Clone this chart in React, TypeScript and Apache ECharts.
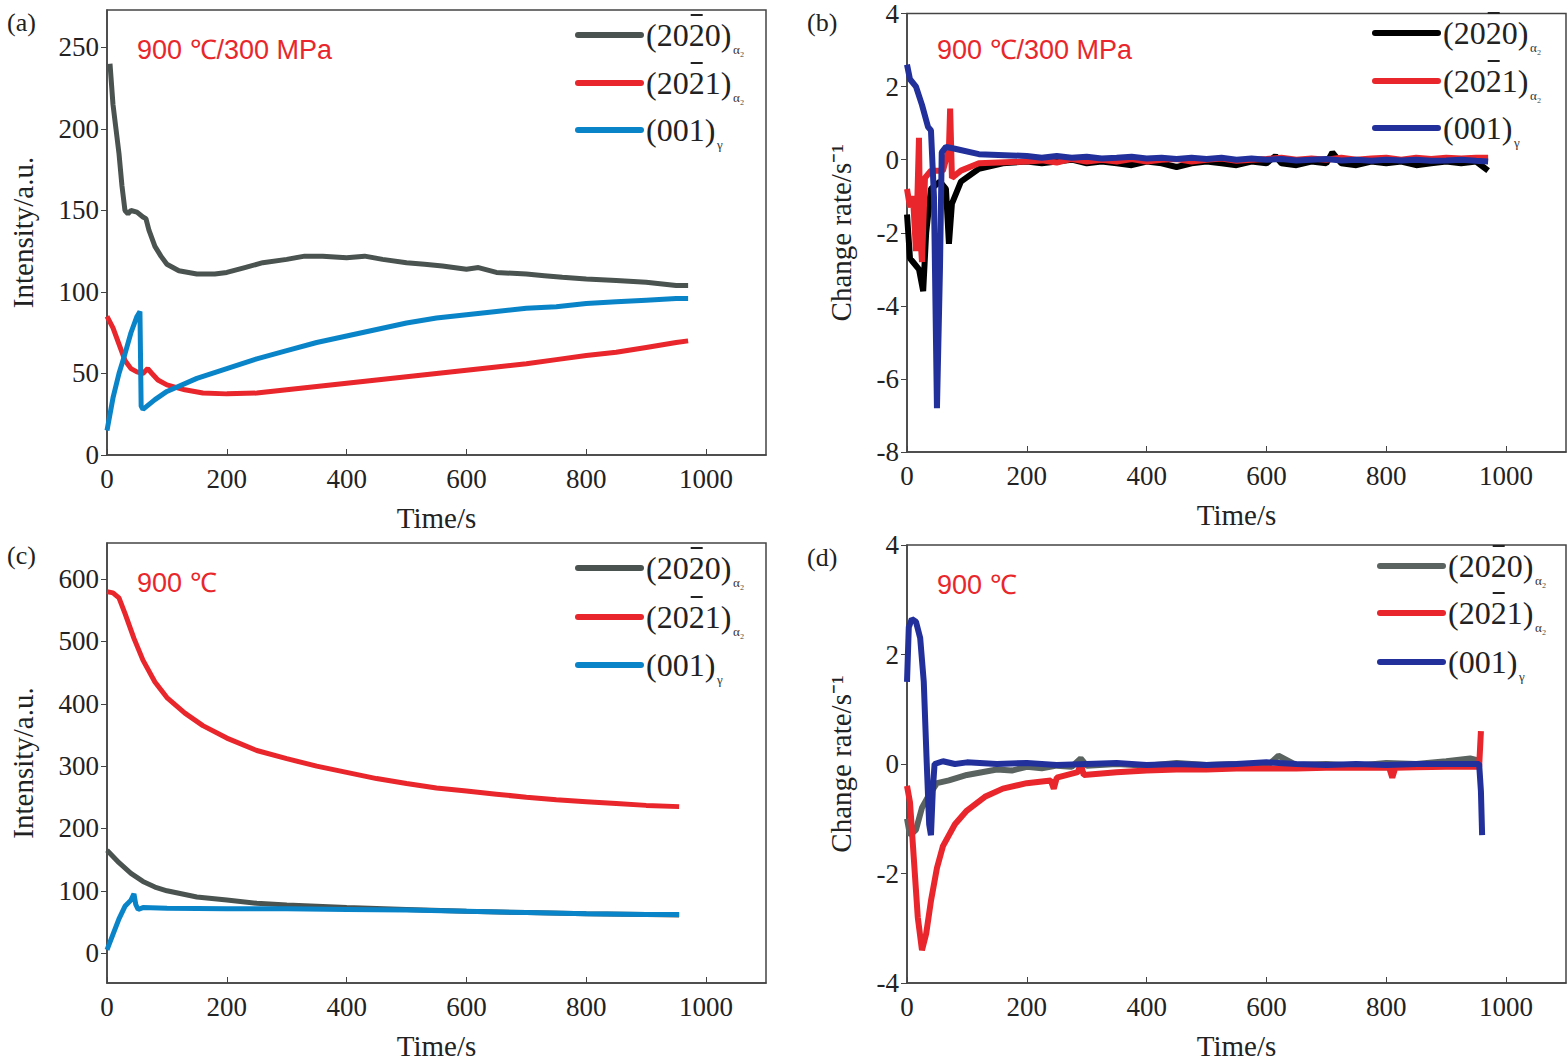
import React, { useEffect, useRef } from 'react'
import * as echarts from 'echarts'

// [time s, value] pairs
const aGray = [[5,240],[10,215],[15,200],[20,185],[25,165],[30,150],[35,148],[40,150],[50,149],[60,146],[65,145],[70,138],[80,128],[90,122],[100,117],[120,113],[150,111],[180,111],[200,112],[230,115],[260,118],[300,120],[330,122],[360,122],[400,121],[430,122],[460,120],[500,118],[530,117],[560,116],[600,114],[620,115],[650,112],[700,111],[730,110],[760,109],[800,108],[850,107],[900,106],[950,104],[970,104]]
const aRed = [[0,85],[10,78],[20,68],[30,58],[40,53],[50,51],[60,50],[68,53],[75,50],[85,46],[100,43],[130,40],[160,38],[200,37.5],[250,38],[300,40],[350,42],[400,44],[450,46],[500,48],[550,50],[600,52],[650,54],[700,56],[750,58.5],[800,61],[850,63],[900,66],[950,69],[970,70]]
const aBlue = [[0,15],[5,25],[10,35],[20,50],[30,62],[40,75],[50,85],[55,88],[57,30],[60,28],[80,34],[100,39],[150,47],[200,53],[250,59],[300,64],[350,69],[400,73],[450,77],[500,81],[550,84],[600,86],[650,88],[700,90],[750,91],[800,93],[850,94],[900,95],[950,96],[970,96]]

const bBlack = [[0,-1.5],[5,-2.7],[10,-2.8],[20,-3.0],[27,-3.6],[32,-2],[40,-0.8],[55,-0.6],[65,-0.8],[70,-2.3],[75,-1.2],[90,-0.6],[120,-0.25],[160,-0.1],[200,-0.05],[225,-0.1],[250,-0.05],[275,0],[300,-0.1],[325,-0.05],[350,-0.1],[375,-0.15],[400,-0.05],[425,-0.1],[450,-0.2],[475,-0.1],[500,-0.05],[525,-0.1],[550,-0.15],[575,-0.05],[600,-0.1],[615,0.1],[625,-0.1],[650,-0.15],[675,-0.05],[700,-0.1],[710,0.2],[725,-0.1],[750,-0.15],[775,-0.05],[800,-0.1],[825,-0.05],[850,-0.15],[875,-0.1],[900,-0.05],[925,-0.1],[950,-0.05],[970,-0.3]]
const bRed = [[0,-0.8],[5,-1.3],[10,-1.0],[15,-2.5],[20,0.6],[22,-2],[25,-2.8],[30,-0.5],[40,-0.3],[60,-0.3],[70,0.3],[72,1.4],[75,-0.5],[90,-0.3],[120,-0.1],[200,-0.05],[225,-0.02],[250,-0.08],[275,0.02],[300,-0.05],[325,0],[350,-0.05],[375,0.02],[400,-0.05],[425,0],[450,0.02],[475,-0.05],[500,0],[525,0.03],[550,-0.03],[575,0],[600,0.02],[625,0.05],[650,0],[675,0.03],[700,0],[725,0.05],[750,0],[775,0.03],[800,0.05],[825,0],[850,0.05],[875,0.02],[900,0.05],[925,0.03],[950,0.05],[970,0.05]]
const bBlue = [[0,2.6],[5,2.2],[15,2.0],[25,1.5],[35,0.9],[40,0.8],[45,-1],[50,-6.8],[55,-3],[58,0.2],[65,0.35],[80,0.3],[120,0.15],[200,0.1],[225,0.05],[250,0.1],[275,0.05],[300,0.08],[325,0.03],[350,0.05],[375,0.08],[400,0.03],[425,0.05],[450,0.02],[475,0.05],[500,0.02],[525,0.05],[550,0],[575,0.03],[600,0],[625,0.02],[650,-0.02],[675,0],[700,0.02],[725,-0.02],[750,0],[775,-0.03],[800,0],[825,-0.02],[850,0],[875,-0.03],[900,-0.02],[925,0],[950,-0.03],[970,-0.05]]

const cRed = [[0,580],[10,578],[20,570],[30,545],[45,505],[60,470],[80,435],[100,410],[130,385],[160,365],[200,345],[250,325],[300,312],[350,300],[400,290],[450,280],[500,272],[550,265],[600,260],[650,255],[700,250],[750,246],[800,243],[850,240],[900,237],[955,235]]
const cGray = [[0,165],[10,155],[20,145],[40,128],[60,115],[80,106],[100,100],[150,90],[200,85],[250,80],[300,77],[400,73],[500,70],[600,67],[700,65],[800,63],[900,62],[955,61]]
const cBlue = [[0,5],[10,30],[20,55],[30,75],[40,85],[45,95],[48,78],[52,70],[60,73],[100,72],[200,71],[300,71],[400,70],[500,69],[600,67],[700,65],[800,63],[900,62],[955,62]]

const dGray = [[0,-1.0],[5,-1.3],[15,-1.2],[25,-0.8],[35,-0.6],[50,-0.35],[70,-0.3],[100,-0.2],[125,-0.15],[150,-0.1],[175,-0.12],[200,-0.05],[225,-0.08],[250,-0.03],[275,-0.05],[290,0.1],[300,-0.03],[350,0],[400,-0.03],[450,0.02],[500,-0.02],[550,0],[600,-0.05],[620,0.15],[650,-0.02],[700,0],[750,-0.03],[800,0.02],[850,0],[900,0.05],[940,0.1],[958,0.05]]
const dRed = [[0,-0.4],[5,-0.7],[10,-1.5],[18,-2.8],[25,-3.4],[32,-3.1],[40,-2.5],[50,-1.9],[60,-1.5],[80,-1.1],[100,-0.85],[130,-0.6],[160,-0.45],[200,-0.35],[240,-0.3],[245,-0.45],[250,-0.25],[285,-0.15],[290,0],[295,-0.2],[350,-0.15],[400,-0.12],[450,-0.1],[500,-0.1],[550,-0.08],[600,-0.08],[650,-0.08],[700,-0.07],[750,-0.07],[805,-0.07],[810,-0.25],[815,-0.07],[850,-0.06],[900,-0.05],[955,-0.05],[958,0.6]]
const dBlue = [[0,1.5],[3,2.5],[8,2.65],[15,2.6],[22,2.3],[28,1.5],[33,0],[37,-1.1],[40,-1.3],[43,-0.5],[46,0],[60,0.05],[80,0],[100,0.03],[150,0],[200,0.02],[250,-0.02],[300,0],[350,0.02],[400,-0.02],[450,0],[500,-0.02],[550,0],[600,0.03],[650,0],[700,-0.02],[750,0],[800,-0.02],[850,0],[900,0],[955,0],[958,-0.5],[960,-1.3]]

const xTicks = [0, 200, 400, 600, 800, 1000]
const aTicks = [0, 50, 100, 150, 200, 250]
const bTicks = [-8, -6, -4, -2, 0, 2, 4]
const cTicks = [0, 100, 200, 300, 400, 500, 600]
const dTicks = [-4, -2, 0, 2, 4]

const SERIF = 'Liberation Serif'
const RED = '#e8262b'

const panels = [
  { tag: '(a)', note: '900 ℃/300 MPa', rect: [107, 10, 766, 455], y: [0, 273], yt: aTicks, yname: 'Intensity/a.u.', lw: 5,
    series: [aGray, aRed, aBlue], colors: ['#4a5350', RED, '#0a84c9'], leg: [35, 83, 130], legX: 578 },
  { tag: '(b)', note: '900 ℃/300 MPa', rect: [907, 10, 1566, 452], y: [-8, 4], yt: bTicks, yname: 'Change rate/s⁻¹', lw: 6,
    series: [bBlack, bRed, bBlue], colors: ['#000000', RED, '#22309c'], leg: [33, 81, 128], legX: 1375 },
  { tag: '(c)', note: '900 ℃', rect: [107, 543, 766, 990], y: [-48, 658], yt: cTicks, yname: 'Intensity/a.u.', lw: 5,
    series: [cGray, cRed, cBlue], colors: ['#4a5350', RED, '#0a84c9'], leg: [568, 617, 665], legX: 578 },
  { tag: '(d)', note: '900 ℃', rect: [907, 545, 1566, 985], y: [-4, 4], yt: dTicks, yname: 'Change rate/s⁻¹', lw: 6,
    series: [dGray, dRed, dBlue], colors: ['#5a6360', RED, '#22309c'], leg: [566, 613, 662], legX: 1380 },
]

const legendGraphics = (p: any) => {
  const out: any[] = []
  const labels = [['(2020)', 2, 'α₂'], ['(2021)', 2, 'α₂'], ['(001)', -1, 'γ']]
  labels.forEach((lab: any, i) => {
    const y = p.leg[i]
    const x = p.legX
    out.push({ type: 'line', shape: { x1: x, y1: y, x2: x + 63, y2: y }, style: { stroke: p.colors[i], lineWidth: 6, lineCap: 'round' } })
    const tx = x + 68
    out.push({ type: 'text', x: tx, y: y, style: { text: lab[0], font: `32px "${SERIF}"`, fill: '#222', textVerticalAlign: 'middle' } })
    if (lab[1] >= 0) {
      const ox = tx + 10.7 + 16 * lab[1]
      out.push({ type: 'line', shape: { x1: ox + 2, y1: y - 20, x2: ox + 14, y2: y - 20 }, style: { stroke: '#222', lineWidth: 2 } })
    }
    const w = lab[0] === '(001)' ? 69 : 85
    out.push({ type: 'text', x: tx + w + 2, y: y + 14, style: { text: lab[2], font: `13px "${SERIF}"`, fill: '#333', textVerticalAlign: 'middle' } })
  })
  return out
}

const App = () => {
  const chartRef = useRef<HTMLDivElement>(null)

  useEffect(() => {
    const chart = echarts.init(chartRef.current!, null, { renderer: 'svg' })
    const grids: any[] = [], xAxes: any[] = [], yAxes: any[] = [], series: any[] = [], graphic: any[] = []
    panels.forEach((p, i) => {
      const [l, t, r, b] = p.rect
      grids.push({ left: l, top: t, width: r - l, height: b - t, show: true, borderColor: '#444', borderWidth: 1.5, backgroundColor: 'transparent' })
      xAxes.push({
        type: 'value', gridIndex: i, min: 0, max: 1100, name: 'Time/s', nameLocation: 'middle', nameGap: 48,
        nameTextStyle: { fontFamily: SERIF, fontSize: 29, color: '#222' },
        axisLine: { onZero: false, lineStyle: { color: '#444', width: 1.5 } },
        axisTick: { inside: true, length: 6, customValues: xTicks, lineStyle: { color: '#444' } },
        axisLabel: { customValues: xTicks, formatter: (v: number) => String(v), fontFamily: SERIF, fontSize: 27, color: '#222', margin: 10 },
        splitLine: { show: false },
      })
      yAxes.push({
        type: 'value', gridIndex: i, min: p.y[0], max: p.y[1], name: p.yname, nameLocation: 'middle', nameGap: i % 2 ? 52 : 70,
        nameTextStyle: { fontFamily: SERIF, fontSize: 29, color: '#222' },
        axisLine: { onZero: false, lineStyle: { color: '#444', width: 1.5 } },
        axisTick: { length: 6, customValues: p.yt, lineStyle: { color: '#444' } },
        axisLabel: { customValues: p.yt, formatter: (v: number) => String(v), fontFamily: SERIF, fontSize: 27, color: '#222', margin: 8 },
        splitLine: { show: false },
      })
      p.series.forEach((d, k) => {
        series.push({ type: 'line', xAxisIndex: i, yAxisIndex: i, data: d, showSymbol: false, lineStyle: { color: p.colors[k], width: p.lw }, z: k === 2 ? 4 : 3 })
      })
      graphic.push({ type: 'text', x: l - 100, y: t + 12, style: { text: p.tag, font: `26px "${SERIF}"`, fill: '#222', textVerticalAlign: 'middle' } })
      graphic.push({ type: 'text', x: l + 30, y: t + 40, style: { text: p.note, font: '27px "Liberation Sans"', fill: RED, textVerticalAlign: 'middle' } })
      graphic.push(...legendGraphics(p))
    })
    chart.setOption({ animation: false, backgroundColor: '#fff', grid: grids, xAxis: xAxes, yAxis: yAxes, series, graphic })
    return () => chart.dispose()
  }, [])

  return <div ref={chartRef} style={{ position: 'absolute', left: 0, top: 0, width: 1568, height: 1061 }}></div>
}
export default App
